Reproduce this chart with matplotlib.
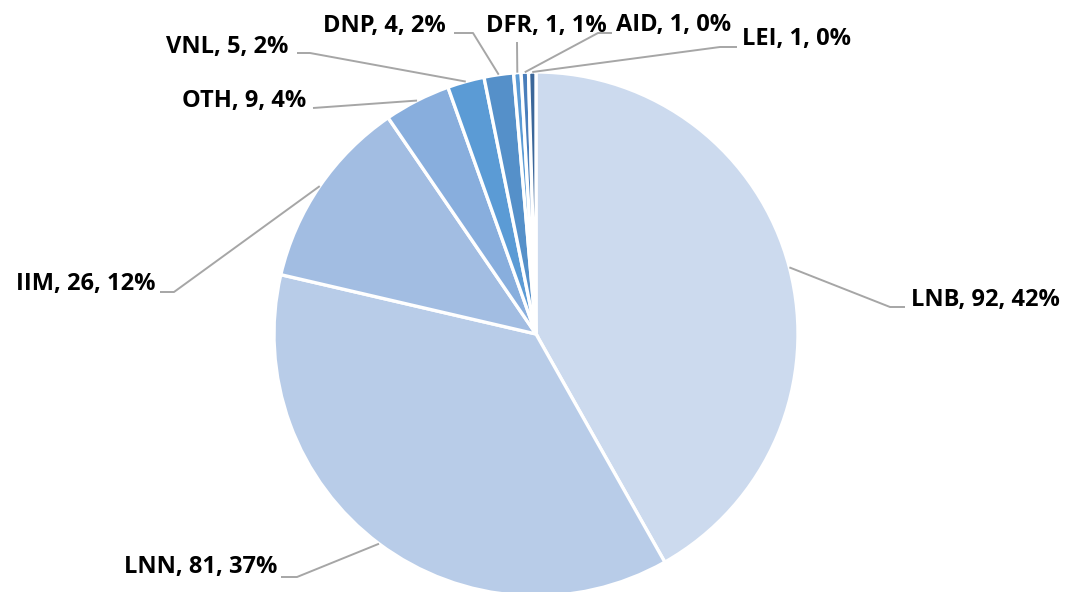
import numpy as np
import matplotlib
matplotlib.use("Agg")
import matplotlib.pyplot as plt

categories = ["LNB", "LNN", "IIM", "OTH", "VNL", "DNP", "DFR", "AID", "LEI"]
values = [92, 81, 26, 9, 5, 4, 1, 1, 1]
percents = [42, 37, 12, 4, 2, 2, 1, 0, 0]
colors = ["#CCDAEE", "#B8CCE8", "#A2BDE2", "#88AEDD", "#5B9BD5",
          "#5590C9", "#5B9BD5", "#4A7EBB", "#3B679A"]

W, H = 1065, 592
fig = plt.figure(figsize=(W / 100, H / 100), dpi=100)
ax = fig.add_axes([0, 0, 1, 1])
ax.set_xlim(0, W)
ax.set_ylim(0, H)
ax.set_aspect("equal")
ax.axis("off")

cx, cy_pix, R = 536, 334, 262
center = (cx, H - cy_pix)

wedges, _ = ax.pie(values, colors=colors, startangle=90, counterclock=False,
                   center=center, radius=R, frame=True,
                   wedgeprops=dict(edgecolor="white", linewidth=2.4))
ax.set_xlim(0, W)
ax.set_ylim(0, H)
ax.axis("off")

# label layout (pixel coordinates, y measured from top): elbow, text anchor, ha
layout = {
    "LNB": dict(elbow=[(890, 307), (905, 307)], text=(911, 300), ha="left"),
    "LNN": dict(elbow=[(297, 577), (281, 577)], text=(277, 567), ha="right"),
    "IIM": dict(elbow=[(174, 292), (160, 292)], text=(155, 284), ha="right"),
    "OTH": dict(elbow=[(313, 108)], text=(306, 101), ha="right"),
    "VNL": dict(elbow=[(310, 53), (297, 53)], text=(288, 47), ha="right"),
    "DNP": dict(elbow=[(473, 33), (454, 33)], text=(446, 26), ha="right"),
    "DFR": dict(elbow=[(517, 42)], text=(546, 26), ha="center"),
    "AID": dict(elbow=[(598, 33), (612, 33)], text=(616, 25), ha="left"),
    "LEI": dict(elbow=[(720, 47), (737, 47)], text=(742, 39), ha="left"),
}

for w, cat, v, p in zip(wedges, categories, values, percents):
    mid = np.deg2rad((w.theta1 + w.theta2) / 2)
    sx = center[0] + R * np.cos(mid)
    sy = center[1] + R * np.sin(mid)
    L = layout[cat]
    xs = [sx] + [e[0] for e in L["elbow"]]
    ys = [sy] + [H - e[1] for e in L["elbow"]]
    ax.plot(xs, ys, color="#A6A6A6", lw=1.4, solid_capstyle="butt")
    tx, ty = L["text"]
    ax.text(tx, H - ty, f"{cat}, {v}, {p}%", ha=L["ha"], va="center",
            fontsize=17, fontweight="bold", family=["Open Sans", "DejaVu Sans"],
            color="#000000")

fig.savefig("out.png", dpi=100)
